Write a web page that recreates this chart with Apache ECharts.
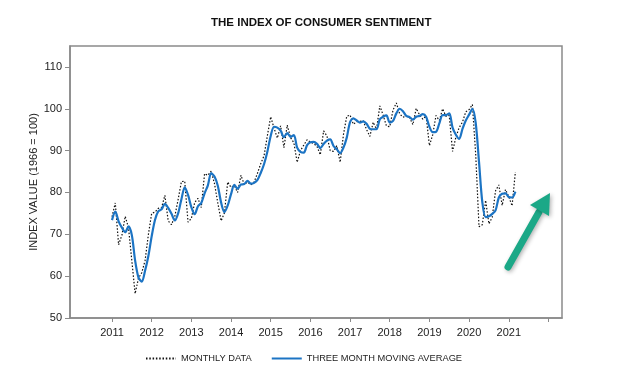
<!DOCTYPE html>
<html><head><meta charset="utf-8">
<script src="https://cdn.jsdelivr.net/npm/echarts@6/dist/echarts.min.js"></script>
<style>html,body{margin:0;padding:0;background:#fff}#c{width:620px;height:385px}</style>
</head><body><div id="c"></div>
<script>
// Months since Jan 2011 (index 0 = Jan 2011, last = Mar 2021)
var yearLabels = ['2011','2012','2013','2014','2015','2016','2017','2018','2019','2020','2021'];
var yTicks = [50,60,70,80,90,100,110];
var monthly = [
 74.2,77.5,67.5,69.8,74.3,71.5,63.7,55.8,59.5,60.8,63.7,69.9,
 75.0,75.3,76.2,76.4,79.3,73.2,72.3,74.3,78.3,82.6,82.7,72.9,
 73.8,77.6,78.6,76.4,84.5,84.1,85.1,82.1,77.5,73.2,75.1,82.5,
 81.2,81.6,80.0,84.1,81.9,82.5,81.8,82.5,84.6,86.9,88.8,93.6,
 98.1,95.4,93.0,95.9,90.7,96.1,93.1,91.9,87.2,90.0,91.3,92.6,
 92.0,91.7,91.0,89.0,94.7,93.5,90.0,89.8,91.2,87.2,93.8,98.2,
 98.5,96.3,96.9,97.0,97.1,95.0,93.4,96.8,95.1,100.7,98.5,95.9,
 95.7,99.7,101.4,98.8,98.0,98.2,97.9,96.2,100.1,98.6,97.5,98.3,
 91.2,93.8,98.4,97.2,100.0,98.2,98.4,89.8,93.2,95.5,96.8,99.3,
 99.8,101.0,89.1,71.8,72.3,78.1,72.5,74.1,80.4,81.8,76.9,80.7,
 79.0,76.8,84.9
];
var movingAvg = [
 73.4,75.4,73.1,71.6,70.5,71.9,69.8,63.7,59.7,58.7,61.3,64.8,
 69.5,73.4,75.5,76.0,77.3,76.3,74.9,73.3,75.0,78.4,81.2,79.4,
 76.5,74.8,76.7,77.5,79.8,81.7,84.6,83.8,81.6,77.6,75.3,76.9,
 79.6,81.8,80.9,81.9,82.0,82.8,82.1,82.3,83.0,84.7,86.8,89.8,
 93.5,95.7,95.5,94.8,93.2,94.2,93.3,93.7,90.7,89.7,89.5,91.3,
 92.0,92.1,91.6,90.6,91.6,92.4,92.7,91.1,90.3,89.4,90.7,93.1,
 96.8,97.7,97.2,96.7,97.0,96.4,95.2,95.1,95.1,97.5,98.1,98.4,
 96.7,97.1,98.9,100.0,99.4,98.3,98.0,97.4,98.1,98.3,98.7,98.1,
 95.7,94.4,94.5,96.5,98.5,98.5,98.9,95.5,93.8,92.8,95.2,97.2,
 98.6,100.0,96.6,87.3,77.7,74.1,74.3,74.9,75.7,78.8,79.7,79.8,
 78.9,78.8,80.2
];
var seriesNames = ['MONTHLY DATA','THREE MONTH MOVING AVERAGE'];

var xTickVals = yearLabels.map(function(_, i){ return i*12; });
var xTickAll = xTickVals.concat([yearLabels.length*12]);
var toPairs = function(arr){ return arr.map(function(v,i){ return [i, v]; }); };

var chart = echarts.init(document.getElementById('c'), null, {renderer:'canvas'});
var font = 'Liberation Sans, Arial, sans-serif';
chart.setOption({
  animation:false,
  backgroundColor:'#fff',
  title:{text:'THE INDEX OF CONSUMER SENTIMENT', left:206, top:12,
    textStyle:{fontFamily:font, fontSize:11.5, fontWeight:'bold', color:'#111'}},
  grid:{left:70, right:58, top:46, bottom:67, show:true, borderColor:'#8a8a8a', borderWidth:1.5, backgroundColor:'transparent'},
  legend:{left:140, top:349, itemWidth:30, itemHeight:8, itemGap:19,
    itemStyle:{opacity:0},
    textStyle:{fontFamily:font, fontSize:9.3, color:'#222'},
    data:seriesNames},
  xAxis:{type:'value', min:-12.7, max:136.1,
    axisLine:{onZero:false, lineStyle:{color:'#8a8a8a', width:1.5}},
    axisTick:{show:true, length:4, lineStyle:{color:'#8a8a8a'}, customValues:xTickAll},
    axisLabel:{customValues:xTickVals, margin:9, fontFamily:font, fontSize:11, color:'#222',
      formatter:function(v){ return yearLabels[Math.round(v/12)] || ''; }},
    splitLine:{show:false}},
  yAxis:{type:'value', min:50, max:115,
    name:'INDEX VALUE (1966 = 100)', nameLocation:'middle', nameGap:31, nameMoveOverlap:false,
    nameTextStyle:{fontFamily:font, fontSize:11, color:'#222'},
    axisLine:{show:true, onZero:false, lineStyle:{color:'#8a8a8a', width:1.5}},
    axisTick:{show:true, length:5, lineStyle:{color:'#8a8a8a'}, customValues:yTicks},
    axisLabel:{customValues:yTicks, margin:8, fontFamily:font, fontSize:11, color:'#222'},
    splitLine:{show:false}},
  series:[
    {name:seriesNames[0], type:'line', data:toPairs(monthly), symbol:'none', smooth:false,
      lineStyle:{color:'#111', width:1.2, type:[1.5,1.8]}, itemStyle:{color:'#111'}, z:2},
    {name:seriesNames[1], type:'line', data:toPairs(movingAvg), symbol:'none', smooth:0.3,
      lineStyle:{color:'#1c74c4', width:2.2}, itemStyle:{color:'#1c74c4'}, z:3}
  ],
  graphic:[
    {type:'group', children:[
      {type:'line', shape:{x1:508, y1:267, x2:539, y2:212},
        style:{stroke:'#1ba887', lineWidth:7, lineCap:'round', shadowBlur:4, shadowOffsetX:1.5, shadowOffsetY:1.5, shadowColor:'rgba(0,0,0,0.3)'}},
      {type:'polygon', shape:{points:[[530,205],[550,193],[549,216]]},
        style:{fill:'#1ba887', shadowBlur:4, shadowOffsetX:1.5, shadowOffsetY:1.5, shadowColor:'rgba(0,0,0,0.3)'}}
    ]}
  ]
});
</script></body></html>
